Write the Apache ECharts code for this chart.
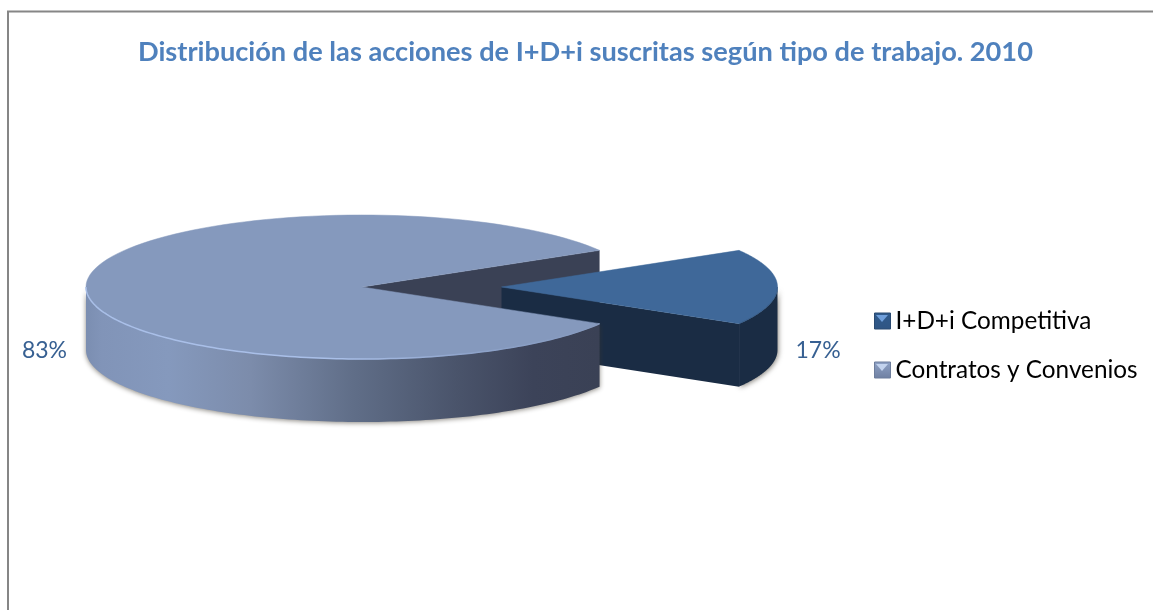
<!DOCTYPE html>
<html>
<head>
<meta charset="utf-8">
<title>Distribución de las acciones de I+D+i</title>
<style>
  html, body { margin: 0; padding: 0; background: #fff; }
  #chart { width: 1153px; height: 610px; }
</style>
<script src="https://cdn.jsdelivr.net/npm/echarts@6/dist/echarts.min.js"></script>
</head>
<body>
<div id="chart"></div>
<script>
const titleText = "Distribución de las acciones de I+D+i suscritas según tipo de trabajo. 2010";
const categories = ["I+D+i Competitiva", "Contratos y Convenios"];
const shares = [17, 83];

// the "3D" disc: flattened ellipse, both slices share the same radii
const cx = 362, cy = 287, rx = 276, ry = 72, depth = 63;
const explode = 139.5;

const chart = echarts.init(document.getElementById("chart"));

// share -> half of the angle around the +x direction (small slice is centred on it)
const halfAngle = (shares[0] / 100) * Math.PI;

function rimPoint(ox, t, dy) {
  return [ox + rx * Math.cos(t), cy + ry * Math.sin(t) + (dy || 0)];
}
function arc(ox, from, to, dy) {
  const pts = [];
  const n = 120;
  for (let i = 0; i <= n; i++) {
    pts.push(rimPoint(ox, from + ((to - from) * i) / n, dy));
  }
  return pts;
}
function poly(points, style, z2) {
  return { type: "polygon", shape: { points: points }, style: style, z2: z2 };
}
function grad(x0, x1, stops) {
  return new echarts.graphic.LinearGradient(
    x0, 0, x1, 0,
    stops.map((s) => ({ offset: s[0], color: s[1] })),
    true
  );
}

// small slice, pulled out to the right
function renderSmall() {
  const ox = cx + explode;
  const apex = [ox, cy];
  const rim = arc(ox, -halfAngle, halfAngle);
  const front = arc(ox, 0, halfAngle);
  const frontLow = arc(ox, 0, halfAngle, depth);
  const last = rim[rim.length - 1];
  const wallColor = "#1a2c44";
  return {
    type: "group",
    children: [
      poly(front.concat(frontLow.slice().reverse()), {
        fill: wallColor, shadowBlur: 5, shadowColor: "rgba(60,55,45,0.6)", shadowOffsetX: 1, shadowOffsetY: 1
      }, 2),
      poly([apex, last, [last[0], last[1] + depth], [apex[0], apex[1] + depth]], { fill: wallColor }, 2),
      poly([apex].concat(rim), { fill: "#3f6899", stroke: "#3f6899", lineWidth: 0.5 }, 3),
      {
        type: "polyline",
        shape: { points: front },
        style: { fill: null, stroke: "#365a85", lineWidth: 1 },
        z2: 4
      }
    ]
  };
}

// big slice, wraps round from the lower cut to the upper cut
function renderBig() {
  const apex = [cx, cy];
  const rim = arc(cx, halfAngle, 2 * Math.PI - halfAngle);
  const front = arc(cx, halfAngle, Math.PI);
  const frontLow = arc(cx, halfAngle, Math.PI, depth);
  const end = rim[rim.length - 1];
  const left = cx - rx;
  const right = front[0][0];
  return {
    type: "group",
    children: [
      // cut face seen through the gap
      poly([apex, end, [end[0], end[1] + depth], [apex[0], apex[1] + depth]], { fill: "#3a4155" }, 1),
      poly(front.concat(frontLow.slice().reverse()), {
        fill: grad(left, right, [
          [0, "#7b8eb1"], [0.03, "#8194b8"], [0.16, "#8599bd"], [0.32, "#7c8cab"],
          [0.52, "#606e88"], [0.72, "#4a546b"], [0.87, "#3c4359"], [1, "#3a4155"]
        ]),
        shadowBlur: 5, shadowColor: "rgba(60,55,45,0.6)", shadowOffsetX: 0, shadowOffsetY: 1
      }, 5),
      poly([apex].concat(rim), { fill: "#8599bd", stroke: "#8599bd", lineWidth: 0.5 }, 6),
      {
        type: "polyline",
        shape: { points: front },
        style: {
          fill: null,
          stroke: grad(left, right, [[0, "#a9bfe8"], [0.5, "#a9bfe8"], [0.75, "#8ea3ca"], [1, "#8599bd"]]),
          lineWidth: 1.5
        },
        z2: 7
      }
    ]
  };
}

function labelOf(value, x, anchor) {
  return {
    type: "text",
    z2: 8,
    style: {
      x: x, y: cy + depth + 1,
      text: value + "%",
      fill: "#376092",
      font: "23px Lato",
      textAlign: anchor,
      textVerticalAlign: "middle"
    }
  };
}

// the light wedge inside each legend square
function legendWedge(y, color) {
  return {
    type: "polygon",
    silent: true,
    z: 10,
    shape: { points: [[876, y + 2], [888, y + 2], [882, y + 9]] },
    style: { fill: color }
  };
}

const option = {
  backgroundColor: "#fff",
  animation: false,
  title: {
    text: titleText,
    left: 133,
    top: 34,
    textStyle: { color: "#4f81bd", fontFamily: "Lato", fontWeight: "bold", fontSize: 27.2 }
  },
  legend: {
    orient: "vertical",
    left: 869,
    top: 304,
    itemWidth: 16,
    itemHeight: 16,
    itemGap: 25,
    icon: "rect",
    textStyle: { color: "#000", fontFamily: "Lato", fontSize: 24.3 },
    data: [
      {
        name: categories[0],
        itemStyle: {
          color: { type: "linear", x: 0, y: 0, x2: 0, y2: 1, colorStops: [{ offset: 0, color: "#2f5a8c" }, { offset: 1, color: "#2f5584" }] },
          borderColor: "#2a4a72", borderWidth: 1
        }
      },
      {
        name: categories[1],
        itemStyle: {
          color: { type: "linear", x: 0, y: 0, x2: 0, y2: 1, colorStops: [{ offset: 0, color: "#8fa2c6" }, { offset: 1, color: "#6f80a2" }] },
          borderColor: "#6d7d9c", borderWidth: 1
        }
      }
    ]
  },
  graphic: [
    {
      type: "polyline",
      silent: true,
      shape: { points: [[8, 610], [8, 11.5], [1153, 11.5]] },
      style: { fill: null, stroke: "#868686", lineWidth: 2 }
    },
    legendWedge(313, "#6f9fdc"),
    legendWedge(362, "#c3d3ee")
  ],
  series: [
    {
      type: "custom",
      name: categories[0],
      coordinateSystem: "none",
      itemStyle: { color: "#3f6899" },
      data: [shares[0]],
      renderItem: function (params, api) {
        const g = renderSmall();
        g.children.push(labelOf(api.value(0), cx + explode + rx + 18, "left"));
        return g;
      }
    },
    {
      type: "custom",
      name: categories[1],
      coordinateSystem: "none",
      itemStyle: { color: "#8599bd" },
      data: [shares[1]],
      renderItem: function (params, api) {
        const g = renderBig();
        g.children.push(labelOf(api.value(0), cx - rx - 19, "right"));
        return g;
      }
    }
  ]
};

chart.setOption(option);
</script>
</body>
</html>
